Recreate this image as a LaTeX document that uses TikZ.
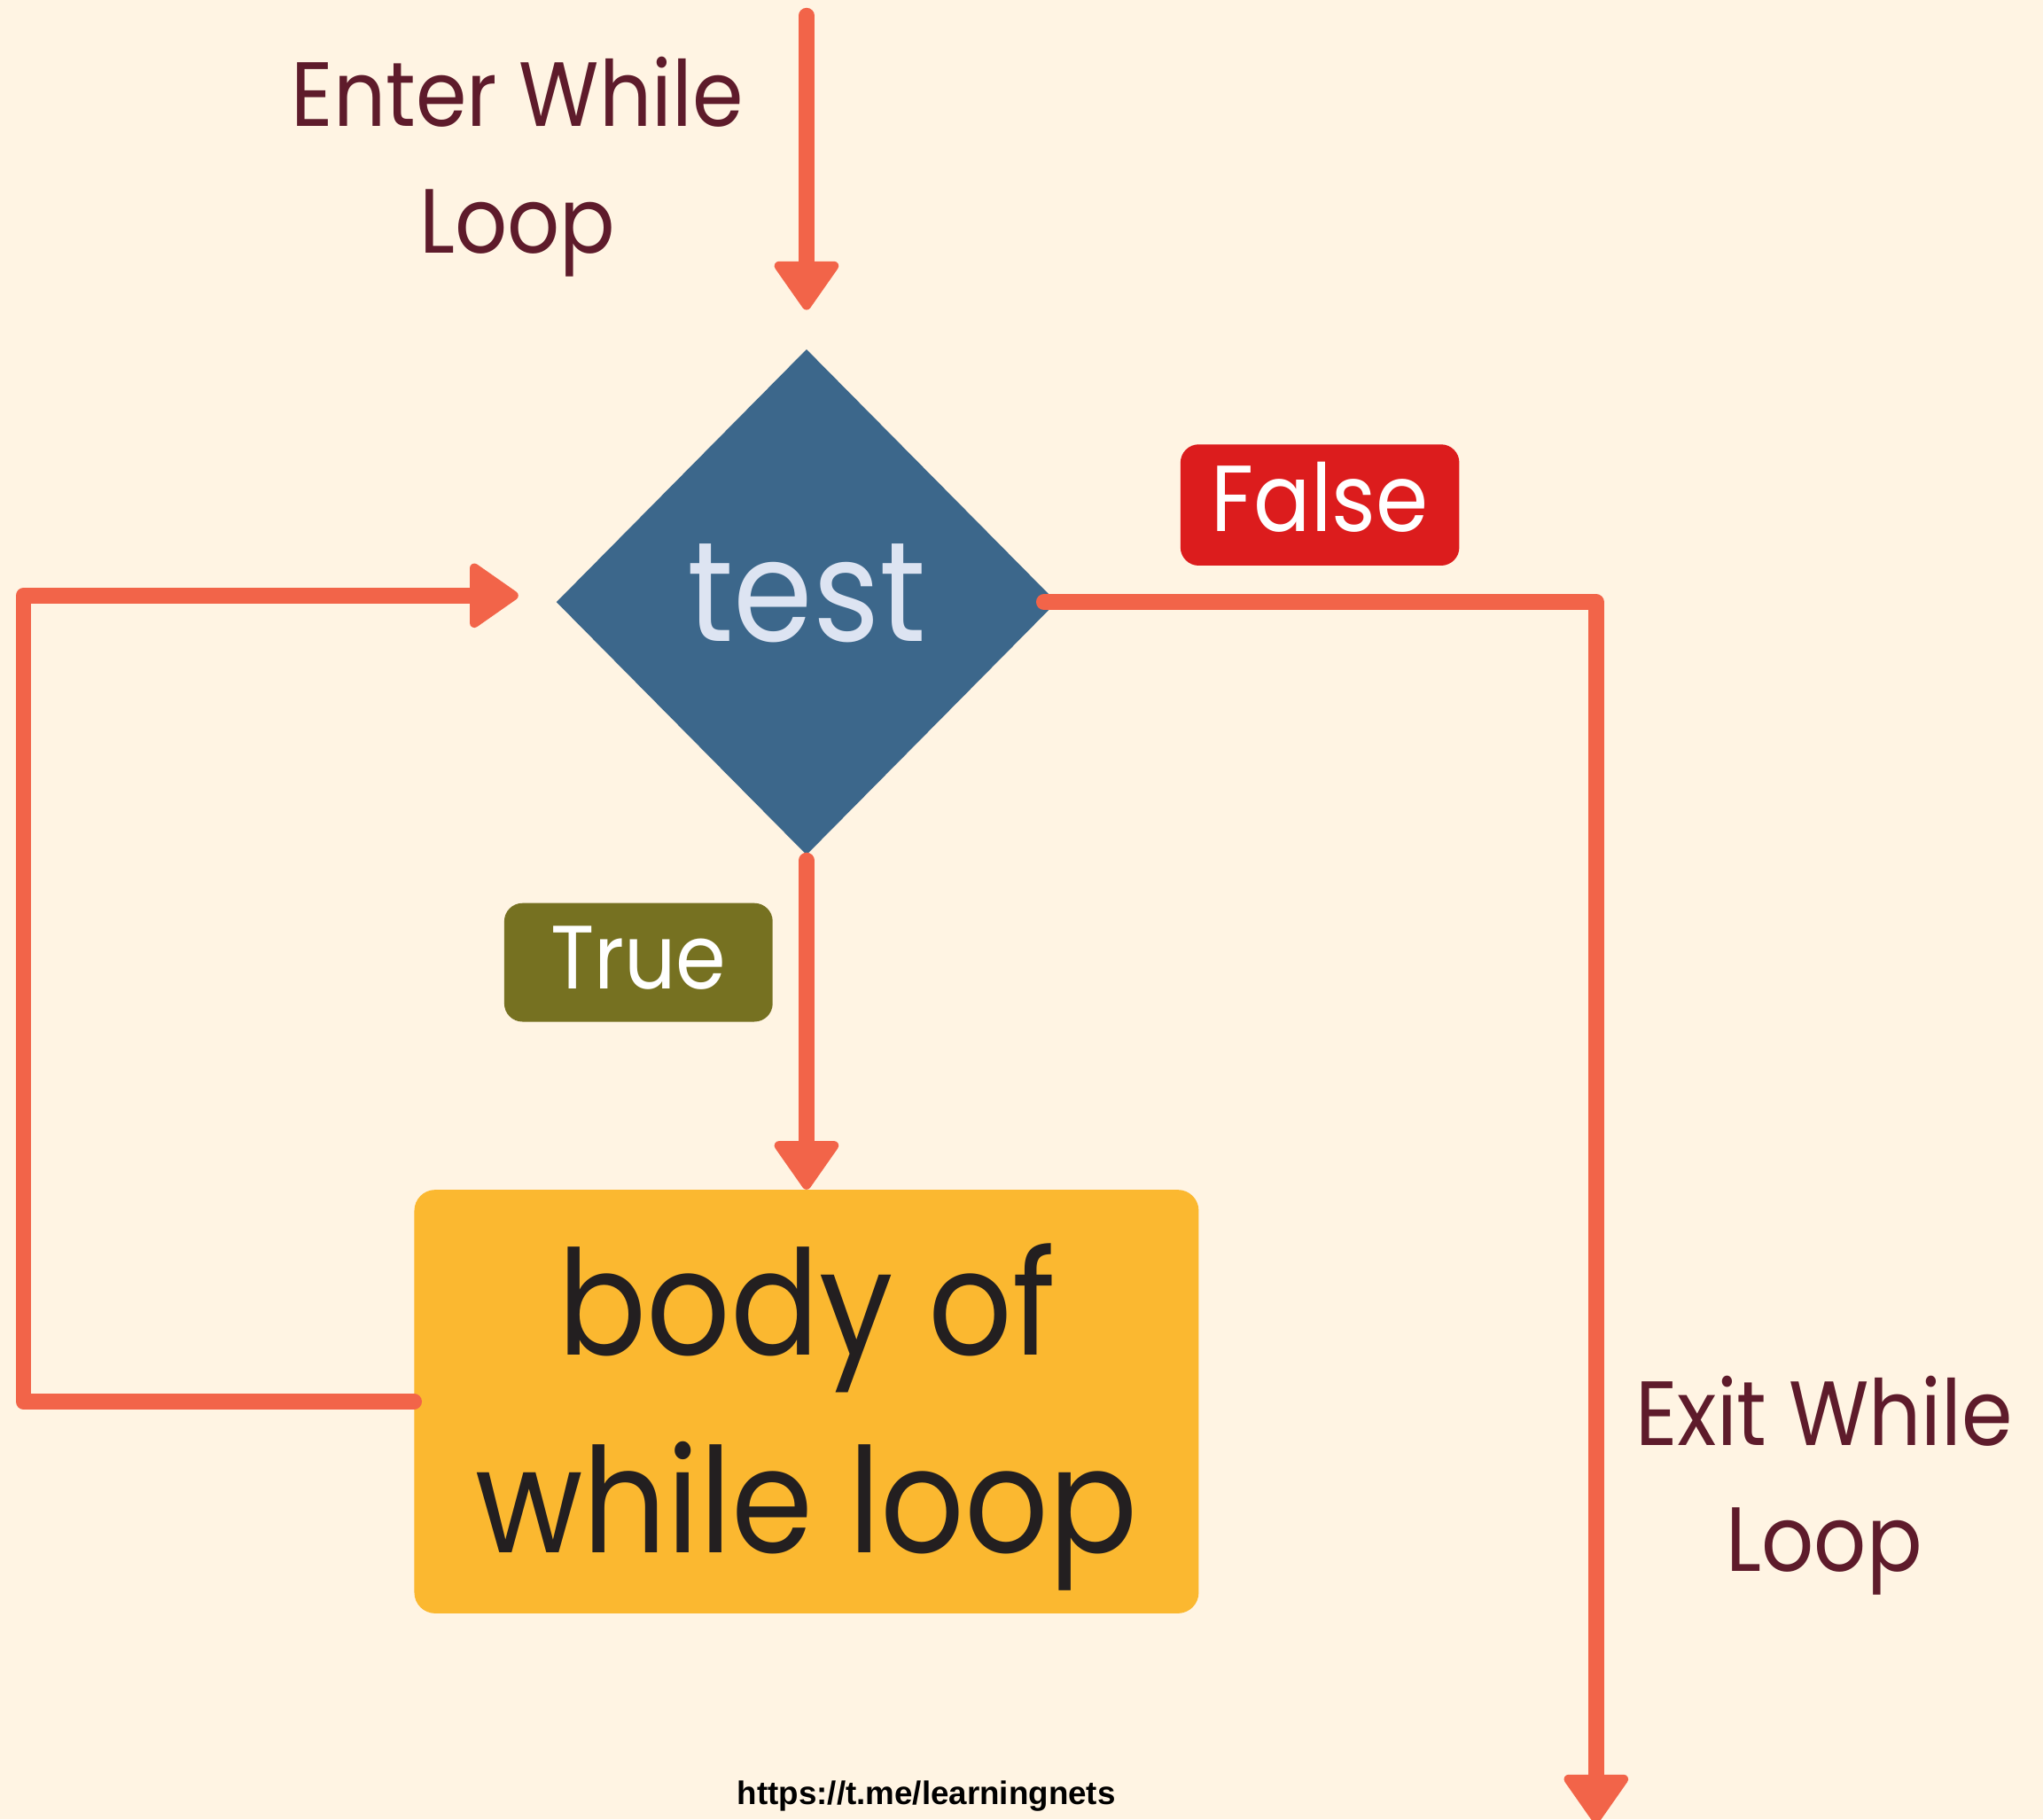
\documentclass[tikz,border=0pt]{standalone}
\usepackage{fontspec}
\usetikzlibrary{shapes.geometric,arrows.meta}
\newfontfamily\geo[FakeStretch=0.9]{Poppins}
\newfontfamily\urlfont{Liberation Sans}
\definecolor{bgc}{HTML}{FFF4E3}
\definecolor{arrowc}{HTML}{F26449}
\definecolor{diac}{HTML}{3C678B}
\definecolor{testc}{HTML}{DDE4F2}
\definecolor{falsec}{HTML}{DC1C1D}
\definecolor{truec}{HTML}{767121}
\definecolor{bodyc}{HTML}{FBB830}
\definecolor{bodytext}{HTML}{231F20}
\definecolor{notec}{HTML}{5E1B2B}
\begin{document}
\begin{tikzpicture}[x=1pt,y=-1pt,
  flow/.style={line width=12pt,draw=arrowc,line cap=round,line join=round},
  arr/.style={flow,-{Triangle[length=40pt,width=54pt,round,line width=7pt]}},
  tag/.style={rounded corners=14pt,inner sep=0pt,text=white,font=\geo\fontsize{72}{80}\selectfont,text height=41pt,text depth=0pt},
  note/.style={text=notec,align=center,font=\geo\fontsize{70}{97}\selectfont}
]
\fill[bgc] (0,0) rectangle (1568,1396);
\useasboundingbox (0,0) rectangle (1568,1396);

\node[diamond,fill=diac,inner sep=0pt,minimum width=384pt,minimum height=388pt,text=testc,font=\geo\fontsize{109}{120}\selectfont,text height=60pt,text depth=0pt] (d) at (619,462) {test};
\node[tag,fill=falsec,minimum width=214pt,minimum height=93pt] (false) at (1013,387.5) {False};
\node[tag,fill=truec,minimum width=206pt,minimum height=91pt,font=\geo\fontsize{69}{80}\selectfont] (true) at (490,738.5) {True};
\node[rectangle,rounded corners=16pt,fill=bodyc,minimum width=602pt,minimum height=325pt] (body) at (619,1075.5) {};
\node[text=bodytext,align=center,font=\geo\fontsize{112}{152}\selectfont] (bodytxt) at ([yshift=-12pt]body.center) {body of\\while loop};
\node[note] (enter) at (397,128) {Enter While\\Loop};
\node[note] (exit) at (1400,1140) {Exit While\\Loop};
\node[font=\urlfont\bfseries\fontsize{25}{30}\selectfont] (url) at (711,1378) {https://t.me/learningnets};

\coordinate (start) at (619,12);
\coordinate (falsecorner) at (1225,462);
\coordinate (exitend) at (1225,1399);
\coordinate (loopcorner) at (18,1075.5);

\draw[arr,shorten >=30pt] (start) -- (d.north);
\draw[arr] ([xshift=-10pt]d.east) -- (falsecorner) -- (exitend);
\draw[arr,shorten >=0pt] ([yshift=-4pt]d.south) -- (body.north);
\draw[arr,shorten >=29pt] (body.west) -- (loopcorner) |- ([yshift=5pt]d.west);
\end{tikzpicture}
\end{document}
